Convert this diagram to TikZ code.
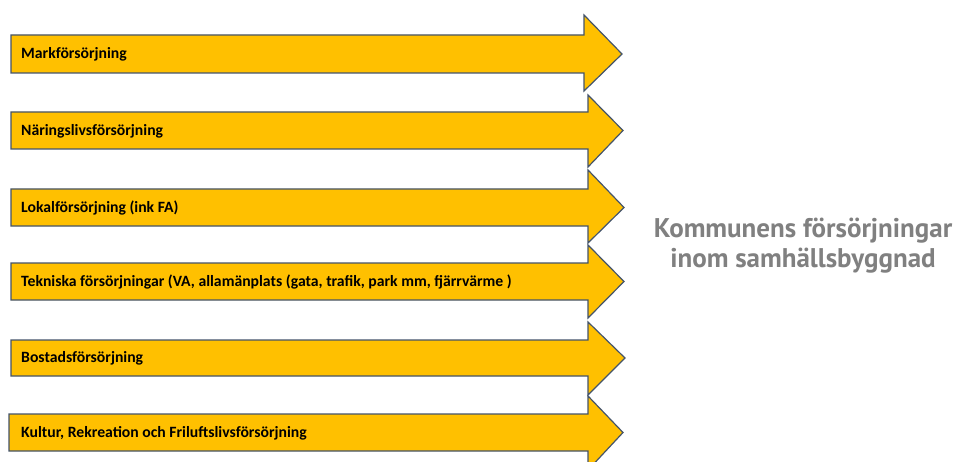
\documentclass[tikz,border=0pt]{standalone}
\usepackage{fontspec}
\setmainfont{Carlito}
\newfontfamily\titlefont{PT Sans}
\definecolor{arrowfill}{HTML}{FFC000}
\definecolor{arrowline}{HTML}{44546A}
\definecolor{titlegray}{HTML}{808080}
\tikzset{
  blockarrow/.style={fill=arrowfill, draw=arrowline, line width=1.2pt, line join=miter},
  arrowlabel/.style={anchor=west, inner sep=0pt, font=\bfseries\fontsize{15.7}{17}\selectfont, text=black},
  titletext/.style={align=center, inner sep=0pt, font=\titlefont\bfseries\fontsize{27}{30}\selectfont, text=titlegray}
}
% #1 left, #2 top, #3 bottom, #4 head x, #5 head top, #6 head bottom, #7 tip x
\newcommand\blkarrow[7]{%
  \path[blockarrow] (#1,#2) -- (#4,#2) -- (#4,#5) -- (#7,{(#2+#3)/2}) -- (#4,#6) -- (#4,#3) -- (#1,#3) -- cycle;}
\begin{document}
\begin{tikzpicture}[x=1pt,y=-1pt]
\useasboundingbox (0,0) rectangle (957,462);
\clip (0,0) rectangle (957,462);
\fill[white] (0,0) rectangle (957,462);
\blkarrow{11}{35}{73}{584}{15}{91}{622}
\blkarrow{11}{112}{149}{588}{95}{167}{623}
\blkarrow{11}{189}{226}{588}{170}{243}{624}
\blkarrow{11}{263}{300}{588}{245}{318}{624}
\blkarrow{11}{340}{376}{588}{322}{395}{625}
\blkarrow{9}{414}{451}{588}{396}{470}{623}
\node[arrowlabel] (l1) at (21,54) {Markförsörjning};
\node[arrowlabel] (l2) at (21,131) {Näringslivsförsörjning};
\node[arrowlabel] (l3) at (21,208) {Lokalförsörjning (ink FA)};
\node[arrowlabel] (l4) at (21,282) {Tekniska försörjningar (VA, allamänplats (gata, trafik, park mm, fjärrvärme )};
\node[arrowlabel] (l5) at (21,358) {Bostadsförsörjning};
\node[arrowlabel] (l6) at (21,433) {Kultur, Rekreation och Friluftslivsförsörjning};
\node[titletext] (title) at (803,246) {Kommunens försörjningar\\inom samhällsbyggnad};
\end{tikzpicture}
\end{document}
